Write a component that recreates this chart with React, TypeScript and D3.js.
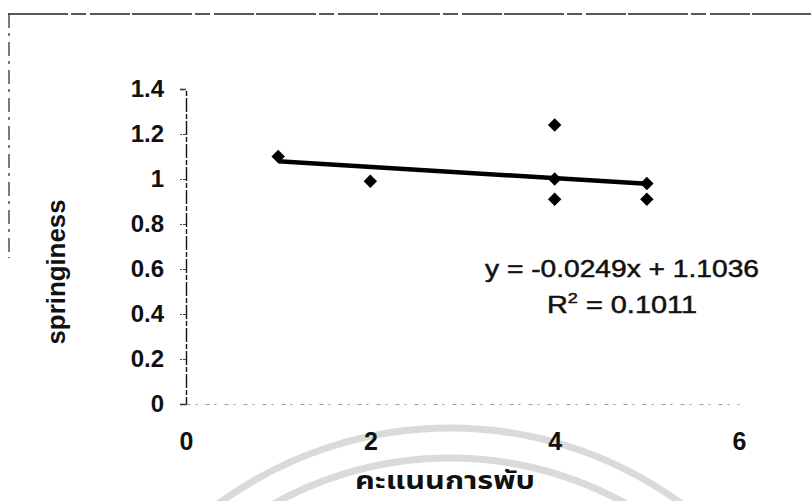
import React, { useRef, useEffect } from 'react';
import * as d3 from 'd3';

// scores (x) and springiness (y)
const xValues = [1, 2, 4, 4, 4, 5, 5];
const yValues = [1.1, 0.99, 1.24, 1.0, 0.91, 0.98, 0.91];

const xTicks = [0, 2, 4, 6];
const yTicks = [0, 0.2, 0.4, 0.6, 0.8, 1, 1.2, 1.4];

// linear trendline from the chart
const slope = -0.0249;
const intercept = 1.1036;
const rSquared = 0.1011;
const trendX = [1, 5];

const xLabel = 'คะแนนการพับ';
const yLabel = 'springiness';

const App = () => {
  const chartRef = useRef<SVGSVGElement>(null);

  useEffect(() => {
    const width = 811;
    const height = 501;

    const x = d3.scaleLinear().domain([0, 6]).range([186, 739]);
    const y = d3.scaleLinear().domain([0, 1.4]).range([404, 89]);

    const svg = d3.select(chartRef.current);
    svg.selectAll('*').remove();
    svg.attr('width', width).attr('height', height);

    svg.append('rect').attr('width', width).attr('height', height).attr('fill', '#fff');

    // faint watermark rings at the bottom
    const rings = [392, 362];
    rings.forEach(r => {
      const p = d3.path();
      p.arc(450, 820, r, Math.PI * 1.1, Math.PI * 1.9);
      svg.append('path')
        .attr('d', p.toString())
        .attr('fill', 'none')
        .attr('stroke', '#dadada')
        .attr('stroke-width', 7);
    });

    // scanned frame edges (top and left)
    svg.append('line')
      .attr('x1', 8).attr('x2', 811).attr('y1', 14).attr('y2', 14)
      .attr('stroke', '#222').attr('stroke-width', 1.3)
      .attr('stroke-dasharray', '60,3,15,4,40,2');
    svg.append('line')
      .attr('x1', 9).attr('x2', 9).attr('y1', 14).attr('y2', 258)
      .attr('stroke', '#333').attr('stroke-width', 1.3)
      .attr('stroke-dasharray', '14,5,3,6');

    // y axis
    const yAxis = d3.axisLeft(y).tickValues(yTicks).tickSize(6).tickFormat(d => d3.format('')(+d));
    const gy = svg.append('g').attr('transform', `translate(${x(0)},0)`).call(yAxis);
    gy.select('.domain')
      .attr('stroke', '#111').attr('stroke-width', 1.4)
      .attr('stroke-dasharray', '14,2,5,2');
    gy.selectAll('.tick line').attr('stroke', '#444').attr('stroke-dasharray', '3,1');
    gy.selectAll('.tick text')
      .attr('x', -22)
      .attr('fill', '#111')
      .style('font-family', 'Arial, "Liberation Sans", sans-serif')
      .style('font-size', '24px')
      .style('font-weight', 'bold');

    // x axis (very faint in the scan)
    const xAxis = d3.axisBottom(x).tickValues(xTicks).tickSize(0).tickFormat(d => String(d));
    const gx = svg.append('g').attr('transform', `translate(0,${y(0)})`).call(xAxis);
    gx.select('.domain')
      .attr('stroke', '#999').attr('stroke-width', 1)
      .attr('stroke-dasharray', '4,5,2,8');
    gx.selectAll('.tick text')
      .attr('y', 28)
      .attr('dy', '0.71em')
      .attr('fill', '#111')
      .style('font-family', 'Arial, "Liberation Sans", sans-serif')
      .style('font-size', '25px')
      .style('font-weight', 'bold');

    // trendline
    const line = d3.line<number>().x(d => x(d)).y(d => y(slope * d + intercept));
    svg.append('path')
      .datum(trendX)
      .attr('d', line)
      .attr('fill', 'none')
      .attr('stroke', '#000')
      .attr('stroke-width', 4.5);

    // points
    const diamond = d3.symbol().type(d3.symbolSquare).size(90);
    svg.append('g')
      .selectAll('path')
      .data(xValues.map((v, i) => [v, yValues[i]]))
      .enter().append('path')
      .attr('d', diamond)
      .attr('transform', d => `translate(${x(d[0])},${y(d[1])}) rotate(45)`)
      .attr('fill', '#000');

    // equation text
    const eq = svg.append('g')
      .style('font-family', 'Arial, "Liberation Sans", sans-serif')
      .style('font-size', '24px')
      .attr('fill', '#111')
      .attr('stroke', '#111')
      .attr('stroke-width', 0.5)
      .attr('text-anchor', 'middle');
    eq.append('text')
      .attr('x', 622).attr('y', 277)
      .attr('textLength', 274).attr('lengthAdjust', 'spacingAndGlyphs')
      .text(`y = ${slope}x + ${intercept}`);
    const r2 = eq.append('text')
      .attr('x', 622).attr('y', 313)
      .attr('textLength', 150).attr('lengthAdjust', 'spacingAndGlyphs');
    r2.append('tspan').text('R');
    r2.append('tspan').attr('dy', -10).style('font-size', '15px').text('2');
    r2.append('tspan').attr('dy', 10).text(` = ${rSquared}`);

    // axis titles
    svg.append('text')
      .attr('transform', 'translate(65,272) rotate(-90)')
      .attr('text-anchor', 'middle')
      .attr('textLength', 145).attr('lengthAdjust', 'spacingAndGlyphs')
      .style('font-family', 'Arial, "Liberation Sans", sans-serif')
      .style('font-size', '26px')
      .style('font-weight', 'bold')
      .attr('fill', '#111')
      .text(yLabel);

    svg.append('text')
      .attr('x', 445).attr('y', 489)
      .attr('text-anchor', 'middle')
      .attr('textLength', 180).attr('lengthAdjust', 'spacingAndGlyphs')
      .style('font-family', '"Noto Sans Thai", Tahoma, "DejaVu Sans", sans-serif')
      .style('font-size', '24px')
      .style('font-weight', 'bold')
      .attr('fill', '#111')
      .text(xLabel);
  }, []);

  return (
    <svg ref={chartRef} style={{ position: 'absolute', left: 0, top: 0, display: 'block' }}></svg>
  );
};

export default App;
